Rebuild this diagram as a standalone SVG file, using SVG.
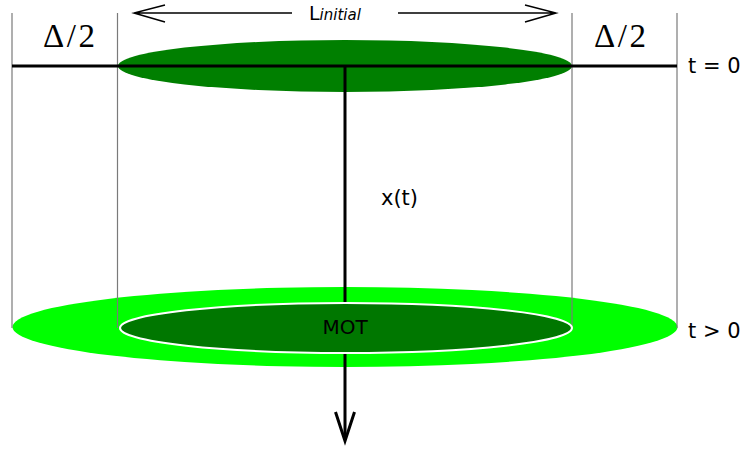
<svg xmlns="http://www.w3.org/2000/svg" width="745" height="449" viewBox="0 0 745 449">
<style>
.guide{stroke:#7a7a7a;stroke-width:1.2;fill:none}
.thick{stroke:#000;stroke-width:3;fill:none}
.thin{stroke:#000;stroke-width:1.5;fill:none}
.sans{font-family:"DejaVu Sans","Noto Sans",sans-serif;fill:#000}
.serif{font-family:"Liberation Serif","DejaVu Serif",serif;fill:#000}
</style>
<rect width="745" height="449" fill="#fff"/>
<g id="cloud-t0">
<ellipse cx="345" cy="66" rx="227" ry="26" fill="#007f00"/>
</g>
<g id="cloud-expanded">
<ellipse cx="345" cy="327" rx="332.5" ry="40" fill="#00ff00"/>
</g>
<g id="connectors">
<line class="guide" x1="12" y1="13" x2="12" y2="328"/>
<line class="guide" x1="117.5" y1="13" x2="117.5" y2="328"/>
<line class="guide" x1="572" y1="13" x2="572" y2="328"/>
<line class="guide" x1="677" y1="13" x2="677" y2="328"/>
<line class="thick" x1="12" y1="66" x2="677" y2="66"/>
<line class="thick" x1="345" y1="66" x2="345" y2="440"/>
<path class="thick" d="M335.5,412 L345,441 L354.5,412" stroke-width="4" stroke-linejoin="miter"/>
<path class="thin" d="M292,13 L134,13 M165,5 L134,13 L165,22"/>
<path class="thin" d="M398,13 L556,13 M525,5 L556,13 L525,22"/>
</g>
<g id="mot">
<ellipse cx="346" cy="328" rx="226" ry="25" fill="#007700" stroke="#fff" stroke-width="2"/>
<text class="sans" x="345" y="334" font-size="20" text-anchor="middle">MOT</text>
</g>
<g id="labels">
<text class="serif" x="43" y="47" font-size="33" letter-spacing="2.5">Δ/2</text>
<text class="serif" x="594" y="47" font-size="33" letter-spacing="2.5">Δ/2</text>
<text class="sans" x="309" y="20" font-size="19">L<tspan font-size="15" font-style="italic">initial</tspan></text>
<text class="sans" x="688" y="73" font-size="21">t = 0</text>
<text class="sans" x="688" y="338" font-size="21">t &gt; 0</text>
<text class="sans" x="381" y="205" font-size="21">x(t)</text>
</g>
</svg>
